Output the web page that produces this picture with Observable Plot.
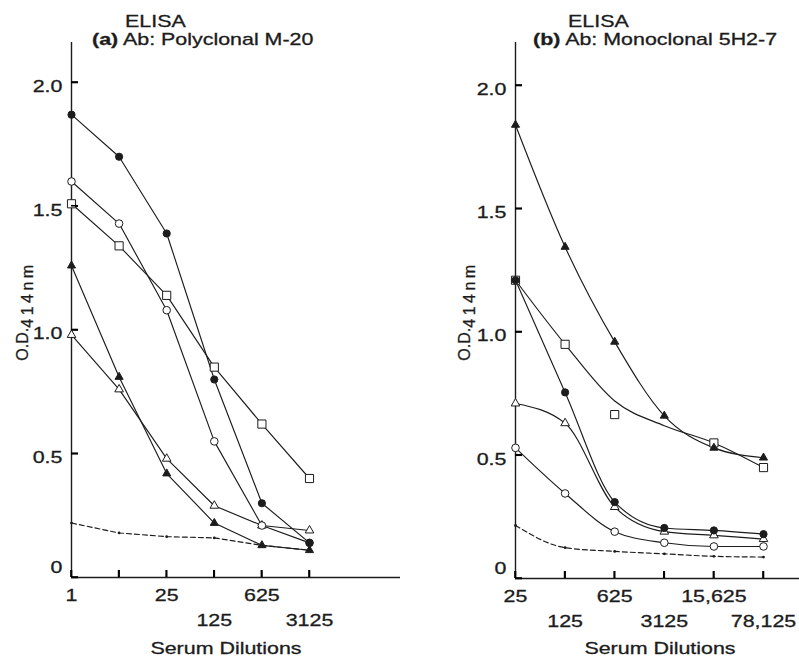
<!DOCTYPE html>
<html><head><meta charset="utf-8">
<script src="https://cdn.jsdelivr.net/npm/d3@7"></script>
<script src="https://cdn.jsdelivr.net/npm/@observablehq/plot@0.6"></script>
<style>
body{margin:0;background:#fff;}
#wrap{position:relative;width:799px;height:660px;overflow:hidden;}
#wrap svg{position:absolute;top:0;font-family:"Liberation Sans",Arial,Helvetica,sans-serif;}
#wrap svg text{stroke:#1c1c1c;stroke-width:0.3px;}
</style></head><body><div id="wrap"></div>
<script>
// ---------- Panel (a): Polyclonal M-20 ----------
const dilutionsA = [1, 5, 25, 125, 625, 3125];
const tickLabelsA = ["1", "5", "25", "125", "625", "3125"];
const tickRow1A = [1, 25, 625];
const tickRow2A = [125, 3125];
const filledCircleA = [1.87, 1.70, 1.39, 0.80, 0.30, 0.14];
const openCircleA   = [1.60, 1.43, 1.08, 0.55, 0.21, 0.14];
const openSquareA   = [1.51, 1.34, 1.14, 0.85, 0.62, 0.40];
const filledTriA    = [1.26, 0.81, 0.42, 0.22, 0.13, 0.11];
const openTriA      = [0.98, 0.76, 0.48, 0.29, 0.21, 0.19];
const controlA      = [0.22, 0.18, 0.165, 0.16, 0.13, 0.11];

// ---------- Panel (b): Monoclonal 5H2-7 ----------
const dilutionsB = [25, 125, 625, 3125, 15625, 78125];
const tickLabelsB = ["25", "125", "625", "3125", "15,625", "78,125"];
const tickRow1B = [25, 625, 15625];
const tickRow2B = [125, 3125, 78125];
const filledTriB       = [1.84, 1.345, 0.96, 0.66, 0.53, 0.49];
const openSquareB      = [1.21, 0.95, 0.665, null, 0.55, 0.45];
const openSquareBCurve = [1.21, 0.95, 0.72, 0.62, 0.55, 0.45];
const filledCircleB    = [1.21, 0.755, 0.31, 0.205, 0.195, 0.18];
const openTriB         = [0.71, 0.63, 0.29, 0.19, 0.175, 0.16];
const openCircleB      = [0.53, 0.345, 0.19, 0.145, 0.13, 0.13];
const controlB         = [0.215, 0.125, 0.11, 0.10, 0.09, 0.087];

const yTicks = [0, 0.5, 1, 1.5, 2];

const titleA = ["(a)", " Ab: Polyclonal M-20"];
const titleB = ["(b)", " Ab: Monoclonal 5H2-7"];
const xLabel = "Serum Dilutions";

// ---------- styles ----------
const ink = "#1c1c1c";
const markerStyle = {
  filledCircle: {symbol: "circle", fill: ink, stroke: ink, r: 3.6},
  openCircle:   {symbol: "circle", fill: "white", stroke: ink, r: 3.8},
  openSquare:   {symbol: "square", fill: "white", stroke: ink, r: 4.6},
  filledTri:    {symbol: "triangle", fill: ink, stroke: ink, r: 3.0},
  openTri:      {symbol: "triangle", fill: "white", stroke: ink, r: 3.2},
  control:      {symbol: "circle", fill: ink, stroke: "none", r: 1.4}
};
const tickLen = 7; // px
const fmtY = d => d === 0 ? "0" : d.toFixed(1);

function rows(xs, ys, name) {
  return xs.map((x, i) => ({x, y: ys[i], series: name})).filter(d => d.y != null);
}

function panel({xs, labels, row1, row2, lines, markers, width, marginLeft, xRange, yRange, curve}) {
  const fmtX = d => labels[xs.indexOf(d)];
  const x0 = xs[0], xN = xs[xs.length - 1];
  const height = 660, marginTop = 42, marginBottom = height - yRange[0];
  const yTickSpan = tickLen * 2 / (yRange[0] - yRange[1]);
  const xTickFactor = Math.pow(xN / x0, tickLen / (xRange[1] - xRange[0]));
  const svg = Plot.plot({
    width, height,
    marginLeft, marginRight: 0, marginTop, marginBottom,
    x: {type: "log", domain: [x0, xN], range: xRange, axis: null},
    y: {domain: [0, 2], range: yRange, axis: null},
    style: {fontSize: "17px", fontFamily: '"Liberation Sans", Arial, sans-serif', color: ink, background: "transparent", overflow: "visible"},
    marks: [
      // axis lines
      Plot.ruleY([0], {stroke: ink, strokeWidth: 1.4}),
      Plot.ruleX([x0], {stroke: ink, strokeWidth: 1.4}),
      // inward tick marks
      Plot.ruleY(yTicks, {y: d => d, x1: () => x0, x2: () => x0 * xTickFactor, stroke: "#000", strokeWidth: 1.6}),
      Plot.ruleX(xs, {x: d => d, y1: () => 0, y2: () => yTickSpan, stroke: "#000", strokeWidth: 1.6}),
      // tick labels
      Plot.text(yTicks.filter(d => d > 0), {x: () => x0, y: d => d, text: fmtY, textAnchor: "end", dx: -9, dy: 4, fill: ink}),
      Plot.text([0], {x: () => x0, y: d => d, text: fmtY, textAnchor: "end", dx: -9, dy: -10, fill: ink}),
      Plot.text(row1, {x: d => d, y: () => 0, text: fmtX, lineAnchor: "top", dy: 11, fill: ink}),
      Plot.text(row2, {x: d => d, y: () => 0, text: fmtX, lineAnchor: "top", dy: 36, fill: ink}),
      // data
      ...lines.map(s => Plot.line(rows(xs, s.values, s.name), {
        x: "x", y: "y", stroke: ink, strokeWidth: 1.15, curve,
        ...(s.name === "control" ? {strokeDasharray: "5,3"} : {})
      })),
      ...markers.map(s => Plot.dot(rows(xs, s.values, s.name), {
        x: "x", y: "y", strokeWidth: 1, ...markerStyle[s.name]
      }))
    ]
  });
  // reinforce the inward axis ticks using Plot's own scales
  const sx = svg.scale("x"), sy = svg.scale("y");
  const g = d3.select(svg).append("g").attr("stroke", "#000").attr("stroke-width", 1.6);
  const ax = sx.apply(x0), ay = sy.apply(0);
  yTicks.forEach(t => {
    const py = sy.apply(t);
    g.append("line").attr("x1", ax).attr("x2", ax + tickLen).attr("y1", py).attr("y2", py);
  });
  xs.forEach(t => {
    const px = sx.apply(t);
    g.append("line").attr("x1", px).attr("x2", px).attr("y1", ay).attr("y2", ay - tickLen);
  });
  return svg;
}

const seriesA = [
  {name: "control", values: controlA},
  {name: "openTri", values: openTriA},
  {name: "filledTri", values: filledTriA},
  {name: "openSquare", values: openSquareA},
  {name: "openCircle", values: openCircleA},
  {name: "filledCircle", values: filledCircleA}
];
const svgA = panel({
  xs: dilutionsA, labels: tickLabelsA, row1: tickRow1A, row2: tickRow2A,
  lines: seriesA, markers: seriesA,
  width: 400, marginLeft: 71, xRange: [71, 309], yRange: [577, 82], curve: "linear"
});

const linesB = [
  {name: "control", values: controlB},
  {name: "openCircle", values: openCircleB},
  {name: "openTri", values: openTriB},
  {name: "filledCircle", values: filledCircleB},
  {name: "openSquare", values: openSquareBCurve},
  {name: "filledTri", values: filledTriB}
];
const markersB = [
  {name: "control", values: controlB},
  {name: "openCircle", values: openCircleB},
  {name: "openTri", values: openTriB},
  {name: "openSquare", values: openSquareB},
  {name: "filledCircle", values: filledCircleB},
  {name: "filledTri", values: filledTriB}
];
const svgB = panel({
  xs: dilutionsB, labels: tickLabelsB, row1: tickRow1B, row2: tickRow2B,
  lines: linesB, markers: markersB,
  width: 399, marginLeft: 115, xRange: [115, 363], yRange: [578, 85], curve: "monotone-x"
});

const wrap = document.getElementById("wrap");
svgA.style.left = "0px";
svgB.style.left = "400px";
wrap.append(svgA, svgB);

function decorate(svg, title, o) {
  const s = d3.select(svg);
  s.append("text").attr("x", o.elisaX).attr("y", 27).attr("text-anchor", "start")
    .attr("fill", ink).attr("font-size", 17).text("ELISA");
  const t = s.append("text").attr("x", o.titleX).attr("y", 45).attr("text-anchor", "start")
    .attr("fill", ink).attr("font-size", 17);
  t.append("tspan").attr("font-weight", "bold").text(title[0]);
  t.append("tspan").text(title[1]);
  s.append("text").attr("x", o.labelX).attr("y", 654).attr("text-anchor", "middle")
    .attr("fill", ink).attr("font-size", 17).text(xLabel);
  const yl = s.append("text").attr("class", "ylab")
    .attr("transform", `translate(${o.ylabX},311) rotate(-90)`)
    .attr("text-anchor", "middle").attr("fill", ink).attr("font-size", 16);
  yl.append("tspan").text("O.D.");
  yl.append("tspan").attr("dy", 5).attr("letter-spacing", 3.5).text("414nm");
}
decorate(svgA, titleA, {elisaX: 125, titleX: 92, labelX: 226, ylabX: 28});
decorate(svgB, titleB, {elisaX: 168, titleX: 133, labelX: 260, ylabX: 70});

// the reference typography is horizontally stretched
for (const svg of [svgA, svgB]) {
  svg.querySelectorAll("text").forEach(el => {
    if (el.classList.contains("ylab")) return;
    const L = el.getComputedTextLength();
    if (L > 0) {
      el.setAttribute("textLength", (L * 1.26).toFixed(1));
      el.setAttribute("lengthAdjust", "spacingAndGlyphs");
    }
  });
}
</script>
</body></html>
